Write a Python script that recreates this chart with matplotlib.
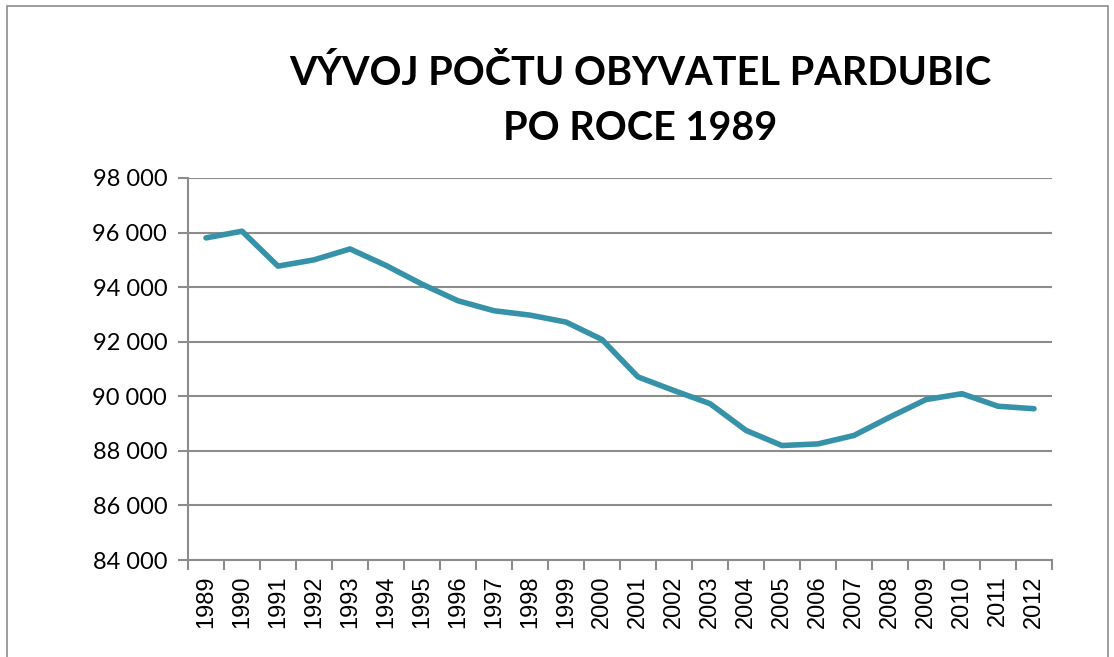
import matplotlib.pyplot as plt
from matplotlib.patches import Rectangle
from matplotlib.ticker import FuncFormatter, FixedLocator

years = [str(y) for y in range(1989, 2013)]
population = [95805, 96050, 94770, 95000, 95400, 94795, 94110, 93500,
              93135, 92975, 92720, 92080, 90710, 90210, 89730, 88750,
              88195, 88255, 88565, 89240, 89880, 90095, 89635, 89545]

title = "VÝVOJ POČTU OBYVATEL PARDUBIC\nPO ROCE 1989"
line_color = "#3592a8"
grid_color = "#8c8c8c"

fig = plt.figure(figsize=(11.14, 6.57), dpi=100)
ax = fig.add_axes([188 / 1114, 1 - 560 / 657, 864 / 1114, 382 / 657])

x = list(range(len(years)))
ax.plot(x, population, color=line_color, linewidth=4, solid_capstyle="round",
        solid_joinstyle="round", zorder=3)

ax.set_xlim(-0.5, len(years) - 0.5)
ax.set_ylim(84000, 98000)
ax.set_yticks(range(84000, 98001, 2000))
ax.yaxis.set_major_formatter(FuncFormatter(lambda v, p: f"{int(v):,}".replace(",", " ")))
ax.grid(axis="y", color=grid_color, linewidth=1.5)
ax.set_axisbelow(True)

# category axis: labels at centres, tick marks between categories
ax.set_xticks(x)
ax.set_xticklabels(years, rotation=90, fontsize=17, family="Liberation Sans")
ax.tick_params(axis="x", which="major", length=0, pad=11)
ax.xaxis.set_minor_locator(FixedLocator([i - 0.5 for i in range(len(years) + 1)]))
ax.tick_params(axis="x", which="minor", length=7, width=1.5, color=grid_color, direction="out")
ax.tick_params(axis="y", length=7, width=1.5, color=grid_color, pad=8)
for lab in ax.get_yticklabels():
    lab.set_family("Lato")
    lab.set_fontsize(17)

for side in ["top", "right"]:
    ax.spines[side].set_visible(False)
for side in ["left", "bottom"]:
    ax.spines[side].set_color(grid_color)
    ax.spines[side].set_linewidth(1.5)

fig.text(640 / 1114, 1 - 101 / 657, title, ha="center", va="center",
         fontsize=28.5, fontweight="bold", family="Lato", linespacing=1.62)

# outer chart frame
fig.patches.append(Rectangle((7 / 1114, -0.05), 1101 / 1114, 1.05 - 6 / 657,
                             transform=fig.transFigure, fill=False,
                             edgecolor="#8c8c8c", linewidth=1.2))

fig.savefig("out.png", dpi=100)
